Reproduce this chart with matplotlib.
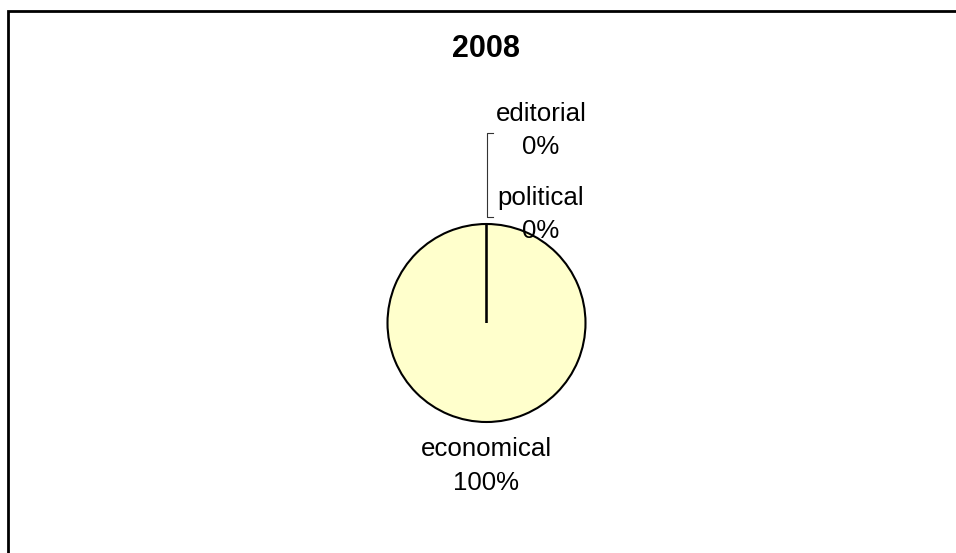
import matplotlib.pyplot as plt
from matplotlib.patches import Rectangle

plt.rcParams['font.family'] = ['Liberation Sans', 'DejaVu Sans']

title = '2008'
categories = ['economical', 'political', 'editorial']
shares = [100, 0, 0]

W, H = 956, 553
fig = plt.figure(figsize=(W / 100, H / 100), dpi=100)
ax = fig.add_axes([0, 0, 1, 1])
ax.set_xlim(0, W)
ax.set_ylim(0, H)
ax.set_aspect('equal')
ax.axis('off')

# chart frame (only its top and left edges fall inside the image)
ax.add_patch(Rectangle((8, -20), W + 40, H - 11 + 20, fill=False,
                       edgecolor='black', linewidth=2.0))

cx, cy, r = 486.5, H - 323, 99
wedges, _ = ax.pie(shares, center=(cx, cy), radius=r, startangle=90,
                   counterclock=False, colors=['#FFFFCC'] * len(shares),
                   wedgeprops=dict(edgecolor='black', linewidth=1.5))
ax.set_xlim(0, W)
ax.set_ylim(0, H)

ax.text(486.5, H - 49, title, ha='center', va='center',
        fontsize=22, fontweight='bold')

fs = 18.6
label_pos = {
    'economical': (486.5, H - 449, H - 483),
    'political': (541, H - 198, H - 231),
    'editorial': (541, H - 114, H - 147),
}
for name, val in zip(categories, shares):
    x, y1, y2 = label_pos[name]
    ax.text(x, y1, name, ha='center', va='center', fontsize=fs)
    ax.text(x, y2, f'{val:.0f}%', ha='center', va='center', fontsize=fs)

# leader bracket for the zero-width slices at the top
ax.plot([493, 487.5, 487.5, 493], [H - 133, H - 133, H - 217, H - 217],
        color='#333333', linewidth=0.8)

fig.savefig('out.png', dpi=100)
